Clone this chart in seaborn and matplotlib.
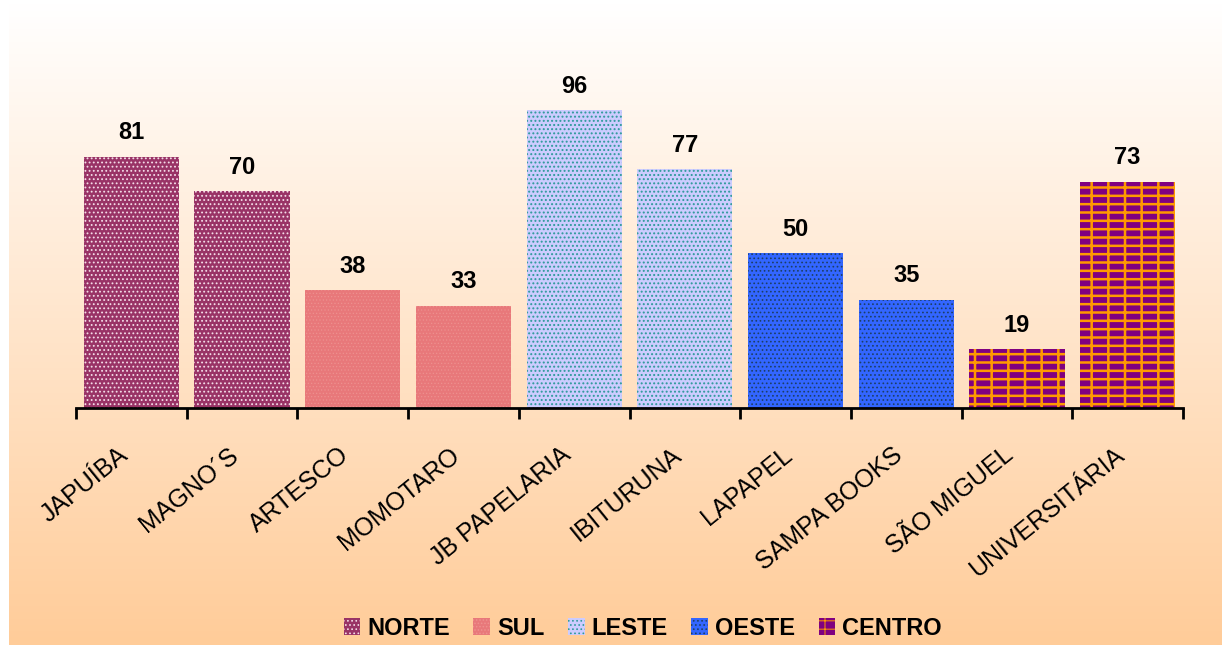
import numpy as np
import pandas as pd
import matplotlib
matplotlib.use("Agg")
import matplotlib.pyplot as plt
import matplotlib.transforms as mtrans
import seaborn as sb
from matplotlib.patches import Patch
from matplotlib.colors import LinearSegmentedColormap

stores = ["JAPUÍBA", "MAGNO´S", "ARTESCO", "MOMOTARO", "JB PAPELARIA",
          "IBITURUNA", "LAPAPEL", "SAMPA BOOKS", "SÃO MIGUEL", "UNIVERSITÁRIA"]
values = [81, 70, 38, 33, 96, 77, 50, 35, 19, 73]
regions = ["NORTE", "NORTE", "SUL", "SUL", "LESTE", "LESTE",
           "OESTE", "OESTE", "CENTRO", "CENTRO"]
region_order = ["NORTE", "SUL", "LESTE", "OESTE", "CENTRO"]

face_colors = ["#993366", "#E8787A", "#CCCCFF", "#3366FF", "#800080"]
hatch_colors = ["#F4DCE8", "#EE918F", "#2E9A9A", "#1C3F66", "#FF9900"]
hatches = ["....", ".....", "....", "....", "--|"]
hatch_lw = [0.8, 0.5, 0.9, 0.7, 1.8]

plt.rcParams["font.family"] = ["Liberation Sans", "DejaVu Sans"]
plt.rcParams["hatch.linewidth"] = 0.7

df = pd.DataFrame({"store": stores, "value": values, "region": regions})

fig = plt.figure(figsize=(12.22, 6.45), dpi=100)
fig.patch.set_facecolor("white")

# gradient background
bg = fig.add_axes([9 / 1222, 0, 1 - 9 / 1222, 642 / 645], zorder=0)
grad = np.linspace(0, 1, 256).reshape(-1, 1)
cmap = LinearSegmentedColormap.from_list("bg", ["#FFFFFF", "#FFCC99"])
bg.imshow(grad, aspect="auto", cmap=cmap, extent=[0, 1, 0, 1], origin="upper")
bg.axis("off")

ax = fig.add_axes([76 / 1222, 237 / 645, 1107 / 1222, 310 / 645], zorder=1)
ax.patch.set_alpha(0)

sb.barplot(data=df, x="store", y="value", hue="region", hue_order=region_order,
           palette=face_colors, dodge=False, width=0.86, saturation=1,
           legend=False, ax=ax)

for i, cont in enumerate(ax.containers):
    for bar in cont:
        bar.set_hatch(hatches[i])
        bar.set_edgecolor(hatch_colors[i])
        bar.set_linewidth(0)
        if hasattr(bar, "set_hatch_linewidth"):
            bar.set_hatch_linewidth(hatch_lw[i])
    ax.bar_label(cont, padding=9, fontsize=17, fontweight="bold")

ax.set_xlim(-0.5, 9.5)
ax.set_ylim(0, 100)
ax.set_xlabel("")
ax.set_ylabel("")
ax.set_yticks([])
for s in ["left", "top", "right"]:
    ax.spines[s].set_visible(False)
ax.spines["bottom"].set_linewidth(2)

ax.set_xticks(np.arange(-0.5, 10, 1), minor=True)
ax.tick_params(axis="x", which="minor", length=8, width=2, direction="out")
ax.tick_params(axis="x", which="major", length=0, pad=25, labelsize=18)
shift = mtrans.ScaledTranslation(-14 / 100, 0, fig.dpi_scale_trans)
for lab in ax.get_xticklabels():
    lab.set_rotation(39)
    lab.set_ha("right")
    lab.set_va("top")
    lab.set_rotation_mode("anchor")
    lab.set_transform(lab.get_transform() + shift)

handles = []
for fc, hc, h, lw in zip(face_colors, hatch_colors, hatches, hatch_lw):
    p = Patch(facecolor=fc, edgecolor=hc, hatch=h, linewidth=0)
    if hasattr(p, "set_hatch_linewidth"):
        p.set_hatch_linewidth(lw)
    handles.append(p)
fig.legend(handles, region_order, loc="center", bbox_to_anchor=(0.526, 0.026),
           ncol=5, frameon=False, prop={"weight": "bold", "size": 17},
           handlelength=0.7, handleheight=0.7, handletextpad=0.3,
           columnspacing=1.0)

plt.savefig("out.png", dpi=100)
plt.close()
